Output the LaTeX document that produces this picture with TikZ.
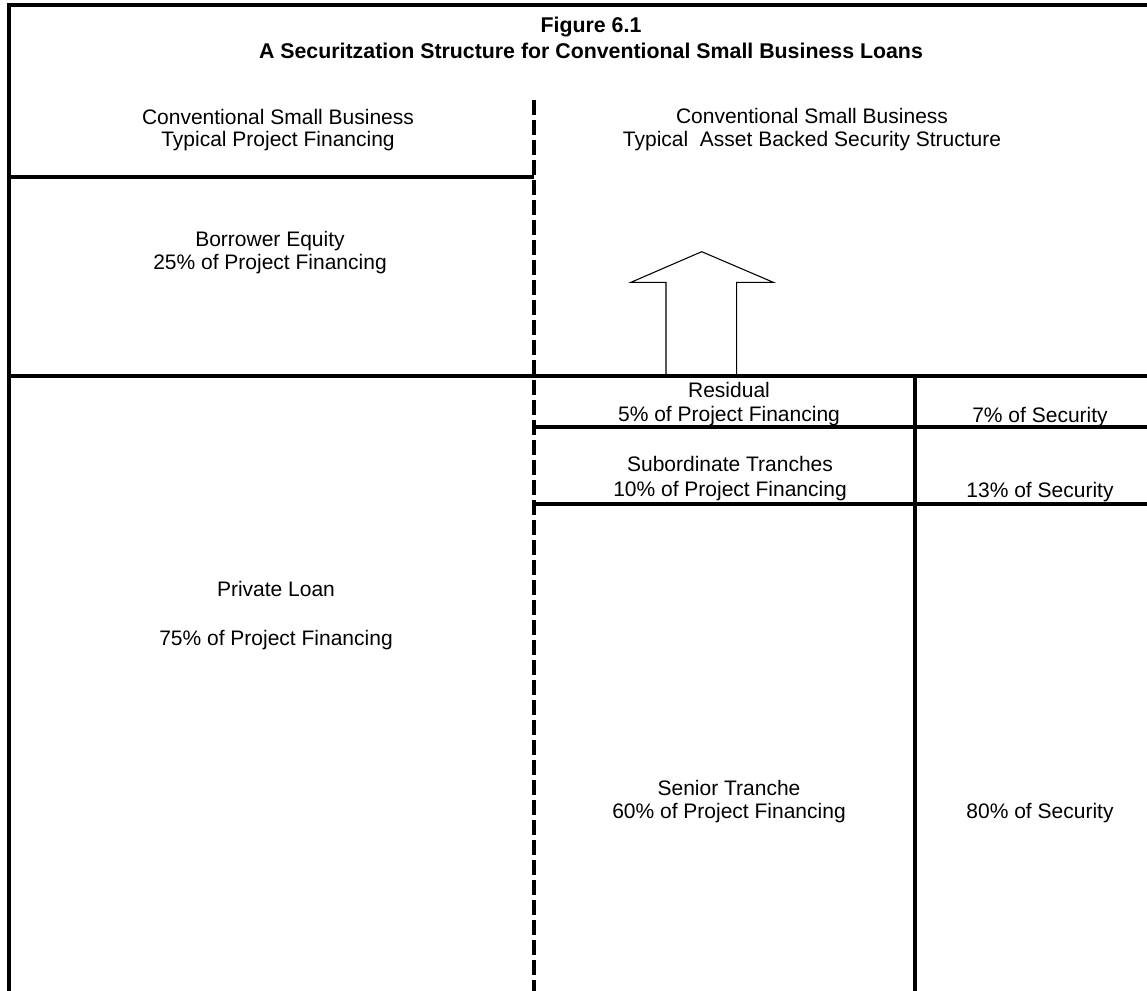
\documentclass[tikz,border=0pt]{standalone}
\usepackage{fontspec}
\setmainfont{Liberation Sans}
\begin{document}
\begin{tikzpicture}[x=0.75pt,y=-0.75pt,
  rule/.style={line width=3pt},
  dashrule/.style={line width=3pt, dash pattern=on 11.25pt off 3.75pt},
  txt/.style={anchor=base, inner sep=0pt, font=\fontsize{15.75}{18}\selectfont},
  ttl/.style={anchor=base, inner sep=0pt, font=\fontsize{16}{19}\selectfont\bfseries},
  bigarrow/.style={line width=0.8pt, line join=miter}]
\useasboundingbox (0,0) rectangle (1147,991);

% grid corners
\coordinate (tl) at (8.5,5.5);
\coordinate (tr) at (1147,5.5);
\coordinate (bl) at (8.5,991);
\coordinate (eqL) at (8.5,177.5);
\coordinate (eqR) at (534,177.5);
\coordinate (midL) at (8.5,376);
\coordinate (midR) at (1147,376);
\coordinate (resL) at (534,427.5);
\coordinate (resR) at (1147,427.5);
\coordinate (subL) at (534,504);
\coordinate (subR) at (1147,504);
\coordinate (secT) at (914.5,376);
\coordinate (secB) at (914.5,991);
\coordinate (divT) at (534,100);
\coordinate (divB) at (534,991);

% frame and rules
\draw[rule, line join=miter] (bl) -- (tl) -- (tr);
\draw[rule] (eqL) -- (eqR);
\draw[rule] (midL) -- (midR);
\draw[rule] (resL) -- (resR);
\draw[rule] (subL) -- (subR);
\draw[rule] (secT) -- (secB);
\draw[dashrule] (divT) -- (divB);

% block arrow standing on the middle rule
\draw[bigarrow] (666,376) -- (666,282.3) -- (631,282.3) -- (701.7,251.7)
  -- (773.3,282.3) -- (736.7,282.3) -- (736.7,376);

% titles
\node[ttl] (fig) at (591,32.7) {Figure 6.1};
\node[ttl] (title) at (591,58.3) {A Securitzation Structure for Conventional Small Business Loans};

% column headers
\node[txt] (lh1) at (278,124.3) {Conventional Small Business};
\node[txt] (lh2) at (278,147) {Typical Project Financing};
\node[txt] (rh1) at (812,123.3) {Conventional Small Business};
\node[txt] (rh2) at (812,147) {Typical~~Asset Backed Security Structure};

% left column
\node[txt] (be1) at (270,247) {Borrower Equity};
\node[txt] (be2) at (270,270) {25\% of Project Financing};
\node[txt] (pl1) at (276,596.7) {Private Loan};
\node[txt] (pl2) at (276,645) {75\% of Project Financing};

% tranches
\node[txt] (re1) at (729,397.7) {Residual};
\node[txt] (re2) at (729,421.7) {5\% of Project Financing};
\node[txt] (re3) at (1040,422.3) {7\% of Security};
\node[txt] (st1) at (730,471.7) {Subordinate Tranches};
\node[txt] (st2) at (730,496) {10\% of Project Financing};
\node[txt] (st3) at (1040,497.3) {13\% of Security};
\node[txt] (sn1) at (729,795) {Senior Tranche};
\node[txt] (sn2) at (729,818) {60\% of Project Financing};
\node[txt] (sn3) at (1040,818) {80\% of Security};
\end{tikzpicture}
\end{document}
